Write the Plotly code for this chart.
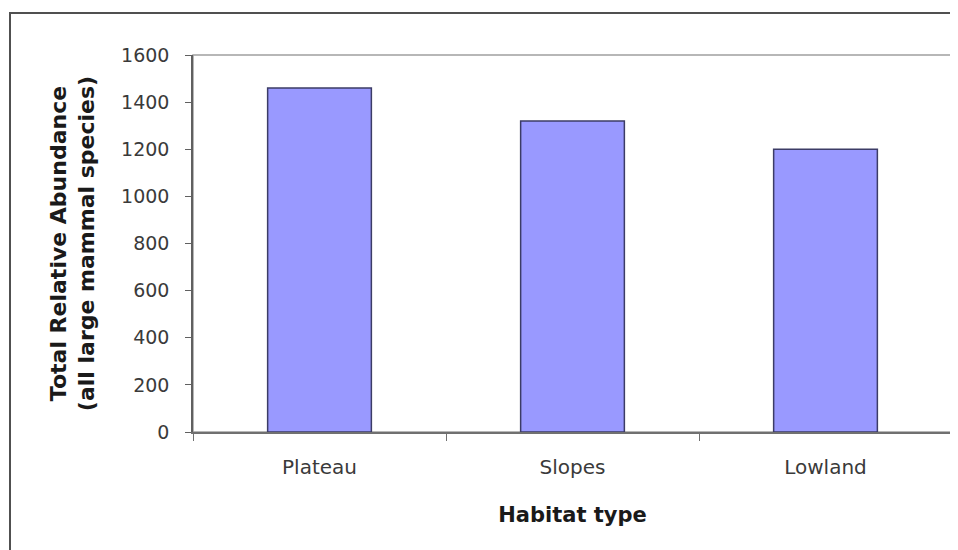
import plotly.graph_objects as go

# data
habitats = ['Plateau', 'Slopes', 'Lowland']
abundance = [1460, 1320, 1200]
y_ticks = [0, 200, 400, 600, 800, 1000, 1200, 1400, 1600]

# the page adds an 8px body margin, so the figure is 8px smaller than the window
OFF = 8
W, H = 958 - OFF, 550 - OFF
m_left, m_right, m_top, m_bottom = 193 - OFF, 6, 55 - OFF, 118
pw = W - m_left - m_right
ph = H - m_top - m_bottom


def px_to_paper_x(px):
    return (px - OFF - m_left) / pw


def px_to_paper_y(py):
    return (H - m_bottom - (py - OFF)) / ph


FONT = 'DejaVu Sans, Liberation Sans, Arial'

fig = go.Figure()
fig.add_bar(
    x=habitats,
    y=abundance,
    width=0.41,
    marker=dict(color='#9999FF', line=dict(color='#3C3C66', width=1.5)),
    showlegend=False,
)

# plot area border (light gray) and outer chart frame
fig.add_shape(type='rect', xref='paper', yref='paper', x0=0, x1=1, y0=0, y1=1,
              line=dict(color='#A0A0A0', width=1.5), layer='below')
fig.add_shape(type='rect', xref='paper', yref='paper',
              x0=px_to_paper_x(10), x1=px_to_paper_x(980),
              y0=px_to_paper_y(570), y1=px_to_paper_y(13),
              line=dict(color='#505050', width=2))

fig.update_layout(
    width=W, height=H,
    margin=dict(l=m_left, r=m_right, t=m_top, b=m_bottom),
    paper_bgcolor='white',
    plot_bgcolor='white',
    font=dict(family=FONT, color='#333333'),
)

fig.update_xaxes(
    showline=True, linecolor='#707070', linewidth=1.5,
    ticks='outside', tickson='boundaries', ticklen=7, tickcolor='#707070',
    ticklabelstandoff=16,
    tickfont=dict(size=20, color='#3a3a3a'),
    title=dict(text='<b>Habitat type</b>', font=dict(size=21, color='#1a1a1a'), standoff=30),
    showgrid=False,
)
fig.update_yaxes(
    range=[0, 1600], tickvals=y_ticks,
    showline=True, linecolor='#606060', linewidth=1.5,
    ticks='outside', ticklen=6, tickcolor='#606060',
    ticklabelstandoff=12,
    tickfont=dict(size=19, color='#3a3a3a'),
    title=dict(text='<b>Total Relative Abundance<br>(all large mammal species)</b>',
               font=dict(size=22, color='#1a1a1a'), standoff=20),
    showgrid=False, zeroline=False,
)

fig.write_html('out.html')
